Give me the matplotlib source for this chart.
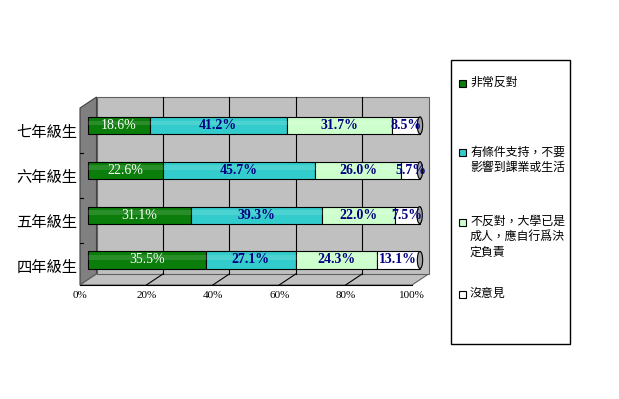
import matplotlib
matplotlib.use('Agg')
import matplotlib.pyplot as plt
import matplotlib.transforms as mtransforms
from matplotlib.patches import Rectangle, Polygon, Ellipse

plt.rcParams['font.family'] = ['Noto Sans CJK TC', 'DejaVu Sans']

# data
categories = ['四年級生', '五年級生', '六年級生', '七年級生']
series_names = ['非常反對',
                '有條件支持，不要\n影響到課業或生活',
                '不反對，大學已是\n成人，應自行爲決\n定負責',
                '沒意見']
strongly_against = [35.5, 31.1, 22.6, 18.6]
conditional = [27.1, 39.3, 45.7, 41.2]
not_against = [24.3, 22.0, 26.0, 31.7]
no_opinion = [13.1, 7.5, 5.7, 8.5]
xtick_labels = ['0%', '20%', '40%', '60%', '80%', '100%']

values = [strongly_against, conditional, not_against, no_opinion]
colors = ['#0A7D0A', '#33CCCC', '#CCFFCC', '#FFFFFF']
label_colors = ['white', '#000080', '#000080', '#000080']
label_weights = ['normal', 'bold', 'bold', 'bold']

fig = plt.figure(figsize=(6.19, 3.99), dpi=100)
ax = fig.add_axes([80 / 619, (399 - 285) / 399, 332 / 619, 177 / 399])
ylo, yhi = -0.435, 3.51
ax.set_xlim(0, 100)
ax.set_ylim(ylo, yhi)

# 3d depth offsets (inches at 100 dpi)
back = ax.transData + mtransforms.ScaledTranslation(0.165, 0.11, fig.dpi_scale_trans)
mid = ax.transData + mtransforms.ScaledTranslation(0.08, 0.055, fig.dpi_scale_trans)

# back wall
ax.add_patch(Rectangle((0, ylo), 100, yhi - ylo, transform=back, clip_on=False,
                       facecolor='#C0C0C0', edgecolor='#606060', lw=0.8, zorder=0))
for gx in [20, 40, 60, 80]:
    ax.plot([gx, gx], [ylo, yhi], color='black', lw=0.8, transform=back,
            clip_on=False, zorder=1)

# side wall and floor (points in display space)
def pt(x, y, off=False):
    p = ax.transData.transform((x, y))
    if off:
        p = p + [16.5, 11]
    return p

disp = mtransforms.IdentityTransform()
side = Polygon([pt(0, ylo), pt(0, yhi), pt(0, yhi, True), pt(0, ylo, True)],
               closed=True, transform=disp, facecolor='#808080',
               edgecolor='#404040', lw=0.8, zorder=0)
floor = Polygon([pt(0, ylo), pt(100, ylo), pt(100, ylo, True), pt(0, ylo, True)],
                closed=True, transform=disp, facecolor='#C0C0C0',
                edgecolor='#606060', lw=0.8, zorder=0)
fig.add_artist(side)
fig.add_artist(floor)
for gx in [20, 40, 60, 80]:
    a, b = pt(gx, ylo), pt(gx, ylo, True)
    fig.add_artist(plt.Line2D([a[0], b[0]], [a[1], b[1]], transform=disp,
                              color='black', lw=0.8))
a, b = pt(0, ylo), pt(100, ylo)
fig.add_artist(plt.Line2D([a[0], b[0]], [a[1], b[1]], transform=disp, color='black', lw=0.8))
# category separators on side wall
for sy in [0.5, 1.5, 2.5]:
    a = pt(0, sy)
    fig.add_artist(plt.Line2D([a[0], a[0] + 3], [a[1], a[1]], transform=disp,
                              color='black', lw=0.8))

# bars
ypos = list(range(len(categories)))
h = 0.38
left = [0.0] * len(categories)
for i, vals in enumerate(values):
    ax.barh(ypos, vals, left=left, height=h, color=colors[i], edgecolor='black',
            lw=0.8, transform=mid, clip_on=False, zorder=3)
    # soft highlight for the cylinder look
    ax.barh([y + h * 0.14 for y in ypos], vals, left=left, height=h * 0.28,
            color='white', alpha=0.13, lw=0, transform=mid, clip_on=False, zorder=4)
    for y, l, v in zip(ypos, left, vals):
        ax.text(l + v / 2, y, '%.1f%%' % v, transform=mid, ha='center', va='center',
                color=label_colors[i], fontweight=label_weights[i],
                family='Liberation Serif', fontsize=10, clip_on=False, zorder=6)
    left = [l + v for l, v in zip(left, vals)]
for y, l in zip(ypos, left):
    ax.add_patch(Ellipse((l, y), 1.6, h, transform=mid, facecolor='#A0A0A0',
                         edgecolor='black', lw=0.8, clip_on=False, zorder=5))

ax.set_yticks(ypos)
ax.set_yticklabels(categories, fontsize=11)
ax.set_xticks([0, 20, 40, 60, 80, 100])
ax.set_xticklabels(xtick_labels, family='Liberation Serif', fontsize=8)
ax.tick_params(axis='y', length=0, pad=2)
ax.tick_params(axis='x', length=0, pad=4)
for s in ax.spines.values():
    s.set_visible(False)
ax.patch.set_visible(False)

# legend box
fig.add_artist(Rectangle((451 / 619, (399 - 344) / 399), 119 / 619, 284 / 399,
                         transform=fig.transFigure, facecolor='white',
                         edgecolor='black', lw=1))
sq_y = [83, 153, 222, 294]
for name, c, y in zip(series_names, colors, sq_y):
    fig.add_artist(Rectangle((459 / 619, (399 - y - 3.5) / 399), 7 / 619, 7 / 399,
                             transform=fig.transFigure, facecolor=c,
                             edgecolor='black', lw=0.8))
    fig.text(470 / 619, (399 - y + 7.5) / 399, name, fontsize=8.6, va='top',
             ha='left', linespacing=1.25)

fig.savefig('out.png', dpi=100)
